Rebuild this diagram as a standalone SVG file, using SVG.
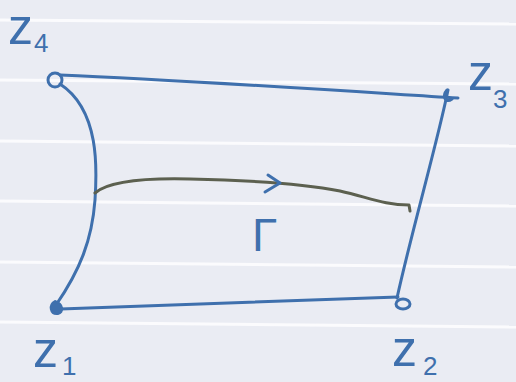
<svg xmlns="http://www.w3.org/2000/svg" width="516" height="382" viewBox="0 0 516 382">
<defs>
<style>
.rule{stroke:#fbfbfd;stroke-width:3;fill:none}
.pen{stroke:#3f70ad;stroke-width:3;fill:none;stroke-linecap:round;stroke-linejoin:round}
.gam{stroke:#5c604f;stroke-width:3;fill:none;stroke-linecap:round;stroke-linejoin:round}
.lbl{font-family:"Liberation Sans",Arial,sans-serif;fill:#3f70ad}
.z{font-size:50px}
.sub{font-size:26px}
</style>
</defs>
<rect width="516" height="382" fill="#eaecf3"/>
<g id="paper-rules">
<line class="rule" x1="0" y1="20" x2="516" y2="24"/>
<line class="rule" x1="0" y1="80" x2="516" y2="84"/>
<line class="rule" x1="0" y1="141" x2="516" y2="146"/>
<line class="rule" x1="0" y1="201" x2="516" y2="206"/>
<line class="rule" x1="0" y1="262" x2="516" y2="267"/>
<line class="rule" x1="0" y1="322" x2="516" y2="327"/>
</g>
<g id="connectors">
<path class="pen" d="M60 75 C180 80 330 90 458 98"/>
<path class="pen" d="M448 90 C438 140 412 230 397 298"/>
<path class="pen" d="M60 309 C180 305 300 300 398 297"/>
<path class="pen" d="M60 84 C100 110 97 170 95 200 C92 240 80 270 56 305"/>
<path class="gam" d="M95 193 C110 180 150 178 190 179 C240 180 300 183 340 191 C370 198 385 205 409 205 L410 211"/>
<path class="pen" d="M268 175 L280 183 L265 192"/>
</g>
<g id="z4">
<circle class="pen" cx="55" cy="80" r="7"/>
<text class="lbl" x="8" y="44"><tspan class="z">z</tspan><tspan class="sub" dx="1" dy="8">4</tspan></text>
</g>
<g id="z3">
<path class="pen" d="M447 90 C442 96 445 104 452 99"/>
<text class="lbl" x="468" y="90"><tspan class="z">z</tspan><tspan class="sub" dx="0" dy="18">3</tspan></text>
</g>
<g id="z1">
<path d="M55 301 C48 305 50 315 58 314 C64 313 64 304 55 301 Z" fill="#3f70ad" stroke="#3f70ad" stroke-width="2"/>
<text class="lbl" x="33" y="367"><tspan class="z">z</tspan><tspan class="sub" dx="4" dy="8">1</tspan></text>
</g>
<g id="z2">
<ellipse class="pen" cx="403" cy="304" rx="7" ry="5"/>
<text class="lbl" x="392" y="366"><tspan class="z">z</tspan><tspan class="sub" dx="6" dy="9">2</tspan></text>
</g>
<g id="gamma">
<text class="lbl" x="252" y="251" font-size="46">Γ</text>
</g>
</svg>
